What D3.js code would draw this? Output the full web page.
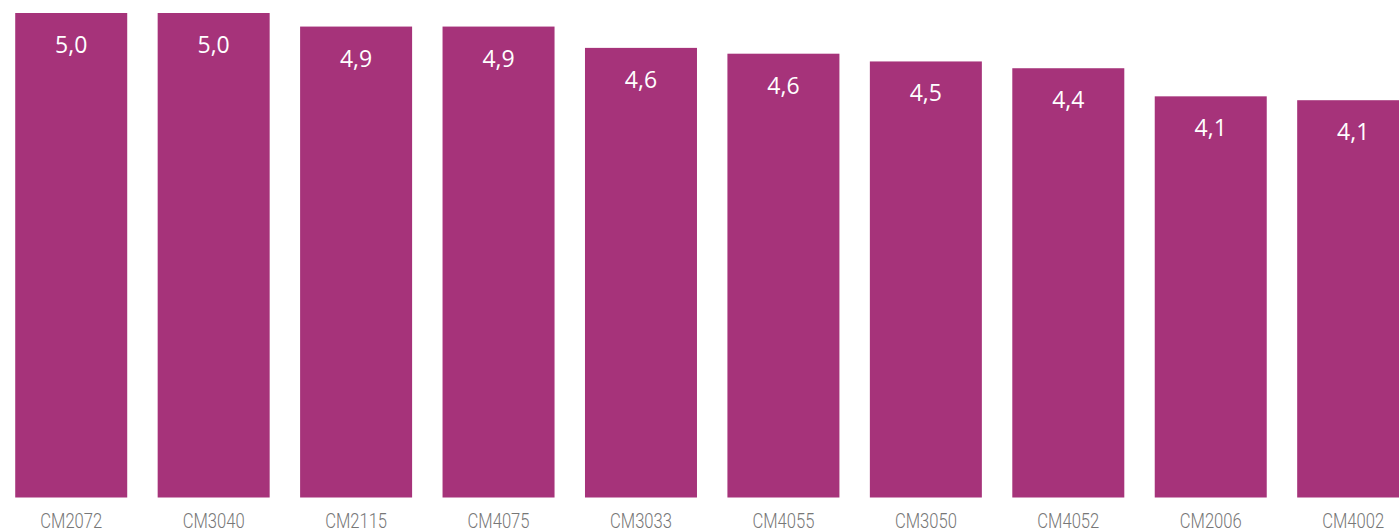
<!DOCTYPE html>
<html>
<head>
<meta charset="utf-8">
<script src="https://cdn.jsdelivr.net/npm/d3@7"></script>
<style>
  html, body { margin: 0; padding: 0; background: #fff; overflow: hidden; }
  svg { display: block; }
</style>
</head>
<body>
<svg id="chart" width="1399" height="532"></svg>
<script>
const categories = ["CM2072", "CM3040", "CM2115", "CM4075", "CM3033", "CM4055", "CM3050", "CM4052", "CM2006", "CM4002"];
const values = [5.00, 5.00, 4.86, 4.86, 4.64, 4.58, 4.50, 4.43, 4.14, 4.10];

const svg = d3.select("#chart");
const barColor = "#A6337A";

const x = d3.scaleBand()
  .domain(categories)
  .range([0, 1424.4])
  .paddingInner(0.2137)
  .paddingOuter(0.10685);

const y = d3.scaleLinear()
  .domain([0, 5])
  .range([497.5, 13]);

const data = categories.map((c, i) => ({ cat: c, val: values[i] }));

svg.append("g").selectAll("rect")
  .data(data)
  .join("rect")
  .attr("x", d => x(d.cat))
  .attr("y", d => y(d.val))
  .attr("width", x.bandwidth())
  .attr("height", d => y(0) - y(d.val))
  .attr("fill", barColor);

const fmt = v => v.toFixed(1).replace(".", ",");

svg.append("g").selectAll("text")
  .data(data)
  .join("text")
  .attr("x", d => x(d.cat) + x.bandwidth() / 2)
  .attr("y", d => y(d.val) + 40)
  .attr("text-anchor", "middle")
  .attr("fill", "#ffffff")
  .style("font-family", "'Open Sans', 'Noto Sans', sans-serif")
  .style("font-size", "23px")
  .text(d => fmt(d.val));

const xAxis = d3.axisBottom(x).tickSize(0).tickPadding(0);
const gx = svg.append("g")
  .attr("transform", "translate(0,497.5)")
  .call(xAxis);
gx.select(".domain").remove();
gx.selectAll("text")
  .attr("y", 0)
  .attr("dy", 0)
  .attr("transform", "translate(0,30.5) scale(0.81,1)")
  .attr("fill", "#777777")
  .style("font-family", "Roboto, sans-serif")
  .style("font-weight", "300")
  .style("font-size", "20.5px");
</script>
</body>
</html>
